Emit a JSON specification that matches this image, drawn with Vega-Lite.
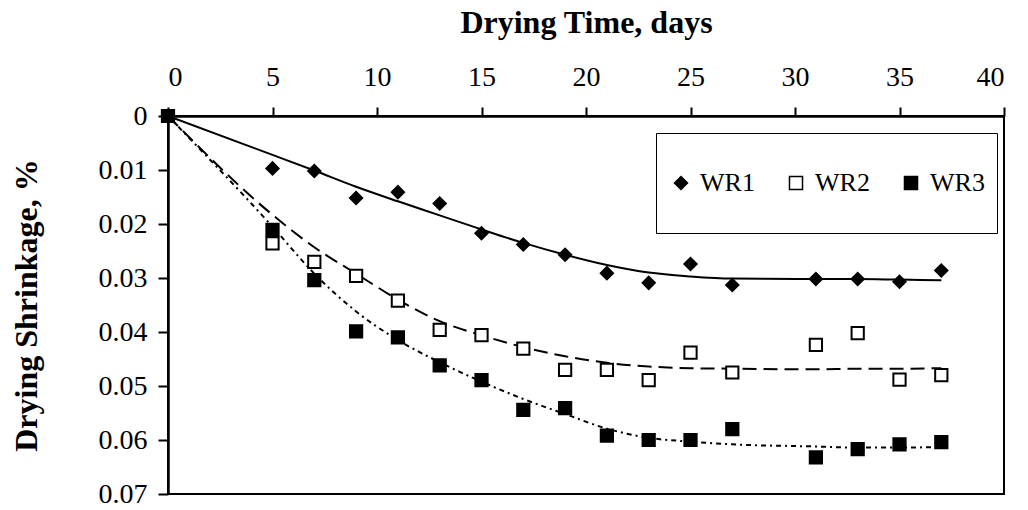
{
  "$schema": "https://vega.github.io/schema/vega-lite/v6.json",
  "width": 836,
  "height": 378,
  "autosize": {"type": "none"},
  "padding": {"left": 168, "top": 116, "right": 24, "bottom": 16},
  "background": "white",
  "config": {
    "font": "Liberation Serif",
    "view": {"stroke": "black", "strokeWidth": 2},
    "axis": {
      "grid": false,
      "domainColor": "black",
      "domainWidth": 2.5,
      "tickColor": "black",
      "tickWidth": 2,
      "labelColor": "black",
      "titleColor": "black",
      "labelFont": "Liberation Serif",
      "titleFont": "Liberation Serif",
      "labelFontSize": 28,
      "titleFontSize": 32,
      "titleFontWeight": "bold"
    },
    "legend": {
      "labelFont": "Liberation Serif",
      "labelFontSize": 26,
      "labelColor": "black"
    }
  },
  "datasets": {
    "fit": [
      {"series": "WR1", "day": 0, "shrink": 0},
      {"series": "WR1", "day": 5, "shrink": 0.0072},
      {"series": "WR1", "day": 7, "shrink": 0.0101},
      {"series": "WR1", "day": 9, "shrink": 0.0131},
      {"series": "WR1", "day": 11, "shrink": 0.0158},
      {"series": "WR1", "day": 13, "shrink": 0.0184},
      {"series": "WR1", "day": 15, "shrink": 0.0210},
      {"series": "WR1", "day": 17, "shrink": 0.0235},
      {"series": "WR1", "day": 19, "shrink": 0.0257},
      {"series": "WR1", "day": 21, "shrink": 0.0276},
      {"series": "WR1", "day": 23, "shrink": 0.0290},
      {"series": "WR1", "day": 25, "shrink": 0.0297},
      {"series": "WR1", "day": 27, "shrink": 0.0301},
      {"series": "WR1", "day": 31, "shrink": 0.0302},
      {"series": "WR1", "day": 33, "shrink": 0.0302},
      {"series": "WR1", "day": 35, "shrink": 0.0303},
      {"series": "WR1", "day": 37, "shrink": 0.0304},
      {"series": "WR2", "day": 0, "shrink": 0},
      {"series": "WR2", "day": 5, "shrink": 0.0183},
      {"series": "WR2", "day": 7, "shrink": 0.0243},
      {"series": "WR2", "day": 9, "shrink": 0.0292},
      {"series": "WR2", "day": 11, "shrink": 0.0340},
      {"series": "WR2", "day": 13, "shrink": 0.0380},
      {"series": "WR2", "day": 15, "shrink": 0.0406},
      {"series": "WR2", "day": 17, "shrink": 0.0428},
      {"series": "WR2", "day": 19, "shrink": 0.0445},
      {"series": "WR2", "day": 21, "shrink": 0.0457},
      {"series": "WR2", "day": 23, "shrink": 0.0464},
      {"series": "WR2", "day": 25, "shrink": 0.0467},
      {"series": "WR2", "day": 27, "shrink": 0.0468},
      {"series": "WR2", "day": 31, "shrink": 0.0469},
      {"series": "WR2", "day": 33, "shrink": 0.0468},
      {"series": "WR2", "day": 35, "shrink": 0.0468},
      {"series": "WR2", "day": 37, "shrink": 0.0467},
      {"series": "WR3", "day": 0, "shrink": 0},
      {"series": "WR3", "day": 5, "shrink": 0.0205},
      {"series": "WR3", "day": 7, "shrink": 0.0292},
      {"series": "WR3", "day": 9, "shrink": 0.0362},
      {"series": "WR3", "day": 11, "shrink": 0.0415},
      {"series": "WR3", "day": 13, "shrink": 0.0456},
      {"series": "WR3", "day": 15, "shrink": 0.0492},
      {"series": "WR3", "day": 17, "shrink": 0.0524},
      {"series": "WR3", "day": 19, "shrink": 0.0552},
      {"series": "WR3", "day": 21, "shrink": 0.0579},
      {"series": "WR3", "day": 23, "shrink": 0.0596},
      {"series": "WR3", "day": 25, "shrink": 0.0603},
      {"series": "WR3", "day": 27, "shrink": 0.0608},
      {"series": "WR3", "day": 31, "shrink": 0.0612},
      {"series": "WR3", "day": 33, "shrink": 0.0614},
      {"series": "WR3", "day": 35, "shrink": 0.0614},
      {"series": "WR3", "day": 37, "shrink": 0.0613}
    ],
    "obs": [
      {"series": "WR1", "day": 0, "shrink": 0},
      {"series": "WR1", "day": 5, "shrink": 0.0097},
      {"series": "WR1", "day": 7, "shrink": 0.0102},
      {"series": "WR1", "day": 9, "shrink": 0.0152},
      {"series": "WR1", "day": 11, "shrink": 0.0141},
      {"series": "WR1", "day": 13, "shrink": 0.0162},
      {"series": "WR1", "day": 15, "shrink": 0.0217},
      {"series": "WR1", "day": 17, "shrink": 0.0238},
      {"series": "WR1", "day": 19, "shrink": 0.0257},
      {"series": "WR1", "day": 21, "shrink": 0.0291},
      {"series": "WR1", "day": 23, "shrink": 0.0309},
      {"series": "WR1", "day": 25, "shrink": 0.0274},
      {"series": "WR1", "day": 27, "shrink": 0.0313},
      {"series": "WR1", "day": 31, "shrink": 0.0302},
      {"series": "WR1", "day": 33, "shrink": 0.0302},
      {"series": "WR1", "day": 35, "shrink": 0.0307},
      {"series": "WR1", "day": 37, "shrink": 0.0286},
      {"series": "WR3", "day": 0, "shrink": 0},
      {"series": "WR3", "day": 5, "shrink": 0.0211},
      {"series": "WR3", "day": 7, "shrink": 0.0304},
      {"series": "WR3", "day": 9, "shrink": 0.0399},
      {"series": "WR3", "day": 11, "shrink": 0.0410},
      {"series": "WR3", "day": 13, "shrink": 0.0462},
      {"series": "WR3", "day": 15, "shrink": 0.0489},
      {"series": "WR3", "day": 17, "shrink": 0.0544},
      {"series": "WR3", "day": 19, "shrink": 0.0541},
      {"series": "WR3", "day": 21, "shrink": 0.0592},
      {"series": "WR3", "day": 23, "shrink": 0.0600},
      {"series": "WR3", "day": 25, "shrink": 0.0600},
      {"series": "WR3", "day": 27, "shrink": 0.0580},
      {"series": "WR3", "day": 31, "shrink": 0.0632},
      {"series": "WR3", "day": 33, "shrink": 0.0617},
      {"series": "WR3", "day": 35, "shrink": 0.0608},
      {"series": "WR3", "day": 37, "shrink": 0.0604},
      {"series": "WR2", "day": 5, "shrink": 0.0236},
      {"series": "WR2", "day": 7, "shrink": 0.0270},
      {"series": "WR2", "day": 9, "shrink": 0.0296},
      {"series": "WR2", "day": 11, "shrink": 0.0342},
      {"series": "WR2", "day": 13, "shrink": 0.0396},
      {"series": "WR2", "day": 15, "shrink": 0.0406},
      {"series": "WR2", "day": 17, "shrink": 0.0431},
      {"series": "WR2", "day": 19, "shrink": 0.0470},
      {"series": "WR2", "day": 21, "shrink": 0.0470},
      {"series": "WR2", "day": 23, "shrink": 0.0489},
      {"series": "WR2", "day": 25, "shrink": 0.0438},
      {"series": "WR2", "day": 27, "shrink": 0.0475},
      {"series": "WR2", "day": 31, "shrink": 0.0424},
      {"series": "WR2", "day": 33, "shrink": 0.0402},
      {"series": "WR2", "day": 35, "shrink": 0.0488},
      {"series": "WR2", "day": 37, "shrink": 0.0480}
    ]
  },
  "encoding": {
    "x": {
      "field": "day",
      "type": "quantitative",
      "scale": {"domain": [0, 40], "nice": false},
      "axis": {
        "orient": "top",
        "values": [0, 5, 10, 15, 20, 25, 30, 35, 40],
        "tickSize": 9,
        "labelPadding": 16,
        "title": "Drying Time, days",
        "titlePadding": 24
      }
    },
    "y": {
      "field": "shrink",
      "type": "quantitative",
      "scale": {"domain": [0, 0.07], "nice": false, "reverse": true},
      "axis": {
        "values": [0, 0.01, 0.02, 0.03, 0.04, 0.05, 0.06, 0.07],
        "format": ".2~f",
        "tickSize": 10,
        "labelPadding": 11,
        "title": "Drying Shrinkage, %",
        "titlePadding": 55
      }
    }
  },
  "layer": [
    {
      "data": {"name": "fit"},
      "transform": [{"filter": "datum.series === 'WR1'"}],
      "mark": {"type": "line", "color": "black", "strokeWidth": 2, "interpolate": "monotone"},
      "encoding": {}
    },
    {
      "data": {"name": "fit"},
      "transform": [{"filter": "datum.series === 'WR2'"}],
      "mark": {"type": "line", "color": "black", "strokeWidth": 2, "strokeDash": [14, 7], "interpolate": "monotone"},
      "encoding": {}
    },
    {
      "data": {"name": "fit"},
      "transform": [{"filter": "datum.series === 'WR3'"}],
      "mark": {"type": "line", "color": "black", "strokeWidth": 2, "strokeDash": [5, 4, 2, 4], "interpolate": "monotone"},
      "encoding": {}
    },
    {
      "data": {"name": "obs"},
      "mark": {"type": "point", "filled": true, "stroke": "black", "strokeWidth": 2, "size": 150, "opacity": 1},
      "encoding": {
        "shape": {
          "field": "series",
          "type": "nominal",
          "scale": {"domain": ["WR1", "WR2", "WR3"], "range": ["diamond", "square", "square"]},
          "legend": {
            "orient": "none",
            "legendX": 488,
            "legendY": 17,
            "direction": "horizontal",
            "title": null,
            "strokeColor": "black",
            "padding": 12,
            "clipHeight": 76,
            "symbolSize": 170,
            "labelOffset": 6,
            "columnPadding": 28,
            "encode": {
              "legend": {"update": {"strokeWidth": {"value": 2}}},
              "symbols": {"update": {"stroke": {"value": "black"}, "strokeWidth": {"value": 2}}}
            }
          }
        },
        "fill": {
          "field": "series",
          "type": "nominal",
          "scale": {"domain": ["WR1", "WR2", "WR3"], "range": ["black", "white", "black"]}
        }
      }
    }
  ]
}
